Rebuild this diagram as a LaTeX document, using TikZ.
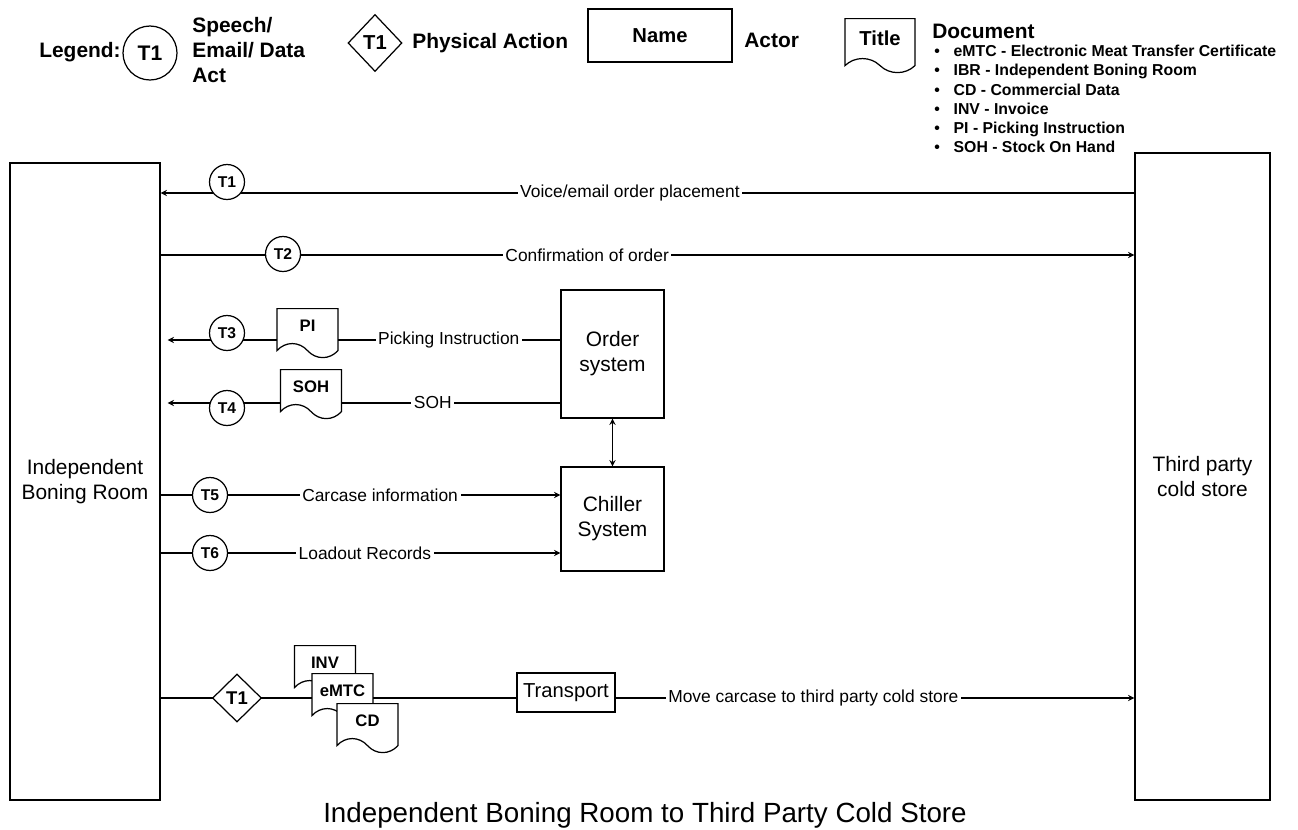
\documentclass[tikz,border=0pt]{standalone}
\usepackage{fontspec}
\setmainfont{Liberation Sans}
\usetikzlibrary{shapes.geometric,shapes.symbols}

\begin{document}
\begin{tikzpicture}[x=0.02cm, y=-0.02cm, >=stealth,
    actor/.style={rectangle, draw, line width=0.8pt, fill=white, align=center, font=\fontsize{11.9}{14.2}\selectfont},
    act/.style={circle, draw, line width=0.7pt, fill=white, minimum size=0.7cm, inner sep=0pt, font=\bfseries\fontsize{8.9}{10}\selectfont},
    phys/.style={diamond, draw, line width=0.7pt, fill=white, minimum width=0.98cm, minimum height=0.96cm, inner sep=0pt, font=\bfseries\fontsize{10.5}{12}\selectfont},
    doc/.style={tape, tape bend top=none, tape bend bottom=out and in, tape bend height=8pt, draw, line width=0.7pt, fill=white, minimum width=1.22cm, minimum height=0.98cm, inner sep=0pt, font=\bfseries\fontsize{9.5}{11}\selectfont},
    lbl/.style={fill=white, inner sep=1.5pt, font=\fontsize{9.9}{12}\selectfont},
    flow/.style={line width=0.6pt},
    legtext/.style={font=\bfseries\fontsize{11.9}{14.2}\selectfont, align=left}]
    \useasboundingbox (0,0) rectangle (1298,829);

    % actors
    \node[actor, minimum width=3cm, minimum height=12.74cm] (ibr) at (85,481.5) {Independent\\Boning Room};
    \node[actor, minimum width=2.7cm, minimum height=12.94cm] (tps) at (1202.5,476.5) {Third party\\cold store};
    \node[actor, minimum width=2.06cm, minimum height=2.56cm] (order) at (612.5,354) {Order\\system};
    \node[actor, minimum width=2.06cm, minimum height=2.08cm] (chiller) at (612.5,519) {Chiller\\System};
    \node[actor, minimum width=1.96cm, minimum height=0.78cm, inner sep=0pt, font=\fontsize{11.5}{13}\selectfont] (transport) at (566,692.5) {Transport};

    % flow heights
    \coordinate (y1) at (0,193);
    \coordinate (y2) at (0,255);
    \coordinate (y3) at (0,340);
    \coordinate (y4) at (0,403);
    \coordinate (y5) at (0,495);
    \coordinate (y6) at (0,553);
    \coordinate (y7) at (0,698);

    \draw[flow, ->] (tps.west |- y1) -- node[lbl, pos=0.518] {Voice/email order placement} (ibr.east |- y1);
    \draw[flow, ->] (ibr.east |- y2) -- node[lbl, pos=0.438] {Confirmation of order} (tps.west |- y2);
    \draw[flow, ->, shorten >=4pt] (order.west |- y3) -- node[lbl, pos=0.279] {Picking Instruction} (ibr.east |- y3);
    \draw[flow, ->, shorten >=4pt] (order.west |- y4) -- node[lbl, pos=0.319] {SOH} (ibr.east |- y4);
    \draw[flow, ->] (ibr.east |- y5) -- node[lbl, pos=0.549] {Carcase information} (chiller.west |- y5);
    \draw[flow, ->] (ibr.east |- y6) -- node[lbl, pos=0.511] {Loadout Records} (chiller.west |- y6);
    \draw[flow, <->] (order) -- (chiller);
    \draw[flow] (ibr.east |- y7) -- (transport.west |- y7);
    \draw[flow, ->] (transport.east |- y7) -- node[lbl, pos=0.381] {Move carcase to third party cold store} (tps.west |- y7);

    % acts and documents
    \node[act] (t1) at (227,182) {T1};
    \node[act] (t2) at (283,254) {T2};
    \node[act] (t3) at (227,333) {T3};
    \node[act] (t4) at (227,408) {T4};
    \node[act] (t5) at (210,495) {T5};
    \node[act] (t6) at (210,553) {T6};
    \node[doc, anchor=north] (pi) at (307.5,308) {PI};
    \node[doc, anchor=north] (soh) at (311,369) {SOH};
    \node[phys] (m1) at (237,698) {T1};
    \node[doc, anchor=north] (inv) at (325,645) {INV};
    \node[doc, anchor=north] (emtc) at (342.5,673) {eMTC};
    \node[doc, anchor=north] (cd) at (367.5,703) {CD};

    % legend
    \node[legtext] (leg) at (80,52) {Legend:};
    \node[act, minimum size=1.08cm, font=\bfseries\fontsize{12}{14}\selectfont] (legact) at (150,53) {T1};
    \node[legtext, anchor=west, inner sep=0pt] (legacttxt) at (192,50) {Speech/\\Email/ Data\\Act};
    \node[phys, minimum width=1.08cm, minimum height=1.14cm, font=\bfseries\fontsize{11.5}{13}\selectfont] (legphys) at (375,43) {T1};
    \node[legtext, anchor=west, inner sep=0pt] (legphystxt) at (412,43) {Physical Action};
    \node[actor, minimum width=2.88cm, minimum height=1.06cm, font=\bfseries\fontsize{11.5}{13}\selectfont] (legactor) at (660,35.5) {Name};
    \node[legtext, anchor=west, inner sep=0pt] (legactortxt) at (744,40) {Actor};
    \node[doc, anchor=north, minimum width=1.4cm, minimum height=1.08cm, font=\bfseries\fontsize{11.5}{13}\selectfont] (legdoc) at (880,18) {Title};
    \node[legtext, anchor=west, inner sep=0pt] (legdoctxt) at (932,31) {Document};
    \node[anchor=north west, inner sep=0pt, align=left, font=\bfseries\fontsize{9}{10.9}\selectfont] (abbr) at (934,45)
        {\makebox[11pt][l]{\textbullet}eMTC - Electronic Meat Transfer Certificate\\
         \makebox[11pt][l]{\textbullet}IBR - Independent Boning Room\\
         \makebox[11pt][l]{\textbullet}CD - Commercial Data\\
         \makebox[11pt][l]{\textbullet}INV - Invoice\\
         \makebox[11pt][l]{\textbullet}PI - Picking Instruction\\
         \makebox[11pt][l]{\textbullet}SOH - Stock On Hand};

    % title
    \node[font=\fontsize{15.8}{19}\selectfont] (title) at (645,815) {Independent Boning Room to Third Party Cold Store};
\end{tikzpicture}
\end{document}
